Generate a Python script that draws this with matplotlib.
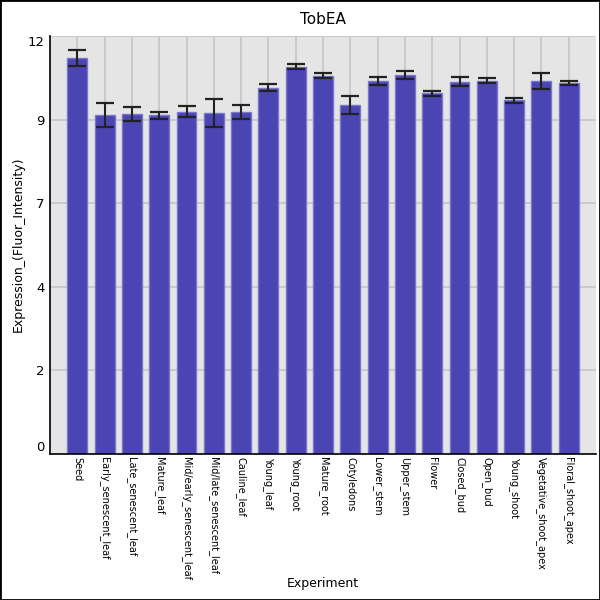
import matplotlib.pyplot as plt
import matplotlib.patches as mpatches
import numpy as np

experiments = ["Seed", "Early_senescent_leaf", "Late_senescent_leaf", "Mature_leaf",
               "Mid/early_senescent_leaf", "Mid/late_senescent_leaf", "Cauline_leaf",
               "Young_leaf", "Young_root", "Mature_root", "Cotyledons", "Lower_stem",
               "Upper_stem", "Flower", "Closed_bud", "Open_bud", "Young_shoot",
               "Vegetative_shoot_apex", "Floral_shoot_apex"]
expression = [11.38, 9.74, 9.76, 9.72, 9.83, 9.78, 9.82, 10.52, 11.12, 10.86, 10.01,
              10.71, 10.88, 10.36, 10.69, 10.72, 10.15, 10.71, 10.64]
errors = [0.23, 0.34, 0.19, 0.09, 0.16, 0.40, 0.19, 0.11, 0.07, 0.07, 0.26,
          0.12, 0.11, 0.07, 0.12, 0.07, 0.06, 0.23, 0.06]
ytick_vals = [0, 2.4, 4.8, 7.2, 9.6, 12]

fig = plt.figure(figsize=(6, 6), dpi=100)
ax = fig.add_axes([50/600, 146/600, 546/600, 418/600])
ax.set_facecolor("#e5e5e5")

x = np.arange(len(experiments))
ax.bar(x, expression, width=0.73, color="#4a45b2", edgecolor="#7a76cc", linewidth=1, zorder=2)
ax.errorbar(x, expression, yerr=errors, fmt="none", ecolor="#222222", elinewidth=1.5,
            capsize=6.5, capthick=1.6, zorder=3)

ax.set_xlim(-1, len(experiments))
ax.set_ylim(0, 12)
ax.set_xticks(x)
ax.set_xticklabels(experiments, rotation=270, fontsize=7, va="top", ha="center")
ax.set_yticks(ytick_vals)
ax.set_yticklabels([str(int(v)) for v in ytick_vals], fontsize=9.5)
ylabels = ax.get_yticklabels()
ylabels[0].set_va("bottom")
ylabels[-1].set_va("top")
ax.tick_params(axis="both", length=0, pad=4)
ax.tick_params(axis="x", pad=2)
ax.grid(True, color="#c8c8c8", linewidth=1.3, zorder=0)
ax.set_axisbelow(True)
for s in ["top", "right"]:
    ax.spines[s].set_visible(False)
ax.spines["left"].set_linewidth(1.2)
ax.spines["bottom"].set_linewidth(1.2)

ax.set_title("TobEA", fontsize=11, pad=9)
fig.text(18/600, 1 - 244/600, "Expression_(Fluor_Intensity)", fontsize=9,
         rotation=90, ha="center", va="center")
fig.text(323/600, 1 - 584/600, "Experiment", fontsize=9, ha="center", va="center")

fig.patches.append(mpatches.Rectangle((0, 0), 1, 1, transform=fig.transFigure,
                                      fill=False, edgecolor="black", linewidth=2))
fig.savefig("out.png", dpi=100)
